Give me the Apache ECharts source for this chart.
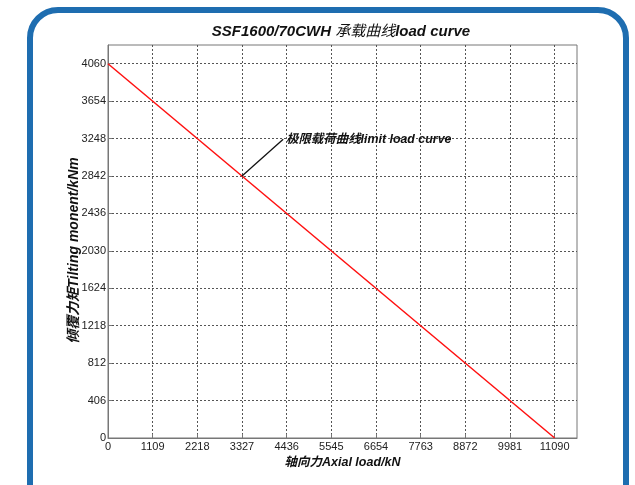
<!DOCTYPE html>
<html>
<head>
<meta charset="utf-8">
<script src="https://cdn.jsdelivr.net/npm/echarts@6/dist/echarts.min.js"></script>
<style>
html,body{margin:0;padding:0;background:#fff;}
#c{width:635px;height:485px;}
</style>
</head>
<body>
<div id="c"></div>
<script>
// Data
const axialLoad = [0, 11090];          // kN
const tiltingMoment = [4060, 0];       // kNm
const xTicks = [0, 1109, 2218, 3327, 4436, 5545, 6654, 7763, 8872, 9981, 11090];
const yTicks = [0, 406, 812, 1218, 1624, 2030, 2436, 2842, 3248, 3654, 4060];
const annotationFrom = [3327, 2842];
const annotationTo = [4350, 3240];
const annotationText = '极限载荷曲线limit load curve';
const titleParts = ['SSF1600/70CWH ', '承载曲线', 'load curve'];

const FONT = '"Liberation Sans", Arial, "Noto Sans CJK SC", sans-serif';
const chart = echarts.init(document.getElementById('c'), null, {renderer: 'canvas'});

const lineData = axialLoad.map((x, i) => [x, tiltingMoment[i]]);

const xStep = xTicks[1] - xTicks[0];
const yStep = yTicks[1] - yTicks[0];
const xMax = xTicks[xTicks.length - 1] + xStep / 2;
const yMax = yTicks[yTicks.length - 1] + yStep / 2;

const gridStyle = {show: true, lineStyle: {color: '#555', type: [2, 2], width: 1}, showMaxLine: false};
const isTick = (v, ticks) => Math.abs(v - Math.round(v)) < 1e-6 && ticks.indexOf(Math.round(v)) >= 0;

chart.setOption({
  animation: false,
  backgroundColor: '#fff',
  graphic: [{
    type: 'rect',
    shape: {x: 30, y: 10, width: 596, height: 540, r: 28},
    style: {fill: 'none', stroke: '#1e6db0', lineWidth: 6},
    z: 100
  }],
  title: {
    text: '{a|' + titleParts[0] + '}{b|' + titleParts[1] + '}{a|' + titleParts[2] + '}',
    left: 336, textAlign: 'center', top: 19,
    textStyle: {
      fontFamily: FONT, fontSize: 15, fontWeight: 'bold', fontStyle: 'italic', color: '#111',
      rich: {
        a: {fontFamily: FONT, fontSize: 15, fontWeight: 'bold', fontStyle: 'italic', color: '#111'},
        b: {fontFamily: FONT, fontSize: 15, fontWeight: 'normal', fontStyle: 'italic', color: '#111'}
      }
    }
  },
  grid: {left: 108, right: 58, top: 45, bottom: 47, show: true, borderColor: '#777', borderWidth: 1, backgroundColor: 'transparent'},
  xAxis: {
    type: 'value', min: 0, max: xMax, interval: xStep,
    name: '轴向力Axial load/kN', nameLocation: 'middle', nameGap: 18, nameMoveOverlap: false,
    nameTextStyle: {fontFamily: FONT, fontSize: 12.5, fontWeight: 'bold', fontStyle: 'italic', color: '#111'},
    axisLine: {show: true, lineStyle: {color: '#777', width: 1}},
    axisTick: {show: true, inside: true, length: 4, lineStyle: {color: '#777'}},
    axisLabel: {
      fontFamily: FONT, fontSize: 11, color: '#222', margin: 3,
      showMaxLabel: false,
      formatter: v => isTick(v, xTicks) ? String(Math.round(v)) : ''
    },
    splitLine: gridStyle
  },
  yAxis: {
    type: 'value', min: 0, max: yMax, interval: yStep,
    name: '倾覆力矩Tilting monent/kNm', nameLocation: 'middle', nameGap: 27, nameRotate: 90, nameMoveOverlap: false,
    nameTextStyle: {fontFamily: FONT, fontSize: 14, fontWeight: 'bold', fontStyle: 'italic', color: '#111', padding: [0, 18, 0, 0]},
    axisLine: {show: true, lineStyle: {color: '#777', width: 1}},
    axisTick: {show: true, inside: true, length: 4, lineStyle: {color: '#777'}},
    axisLabel: {
      fontFamily: FONT, fontSize: 11, color: '#222', margin: 2,
      showMaxLabel: false,
      formatter: v => isTick(v, yTicks) ? String(Math.round(v)) : ''
    },
    splitLine: gridStyle
  },
  series: [{
    type: 'line',
    data: lineData,
    symbol: 'none',
    lineStyle: {color: '#ff1010', width: 1.5},
    markLine: {
      silent: true,
      symbol: ['none', 'none'],
      label: {show: false},
      lineStyle: {color: '#111', type: 'solid', width: 1.3},
      data: [[{coord: annotationFrom}, {coord: annotationTo}]]
    },
    markPoint: {
      silent: true,
      symbol: 'circle', symbolSize: 0,
      label: {
        show: true, position: 'right', distance: 3,
        formatter: annotationText,
        fontFamily: FONT, fontSize: 12.4, fontWeight: 'bold', fontStyle: 'italic', color: '#111'
      },
      data: [{coord: annotationTo}]
    }
  }]
});
</script>
</body>
</html>
